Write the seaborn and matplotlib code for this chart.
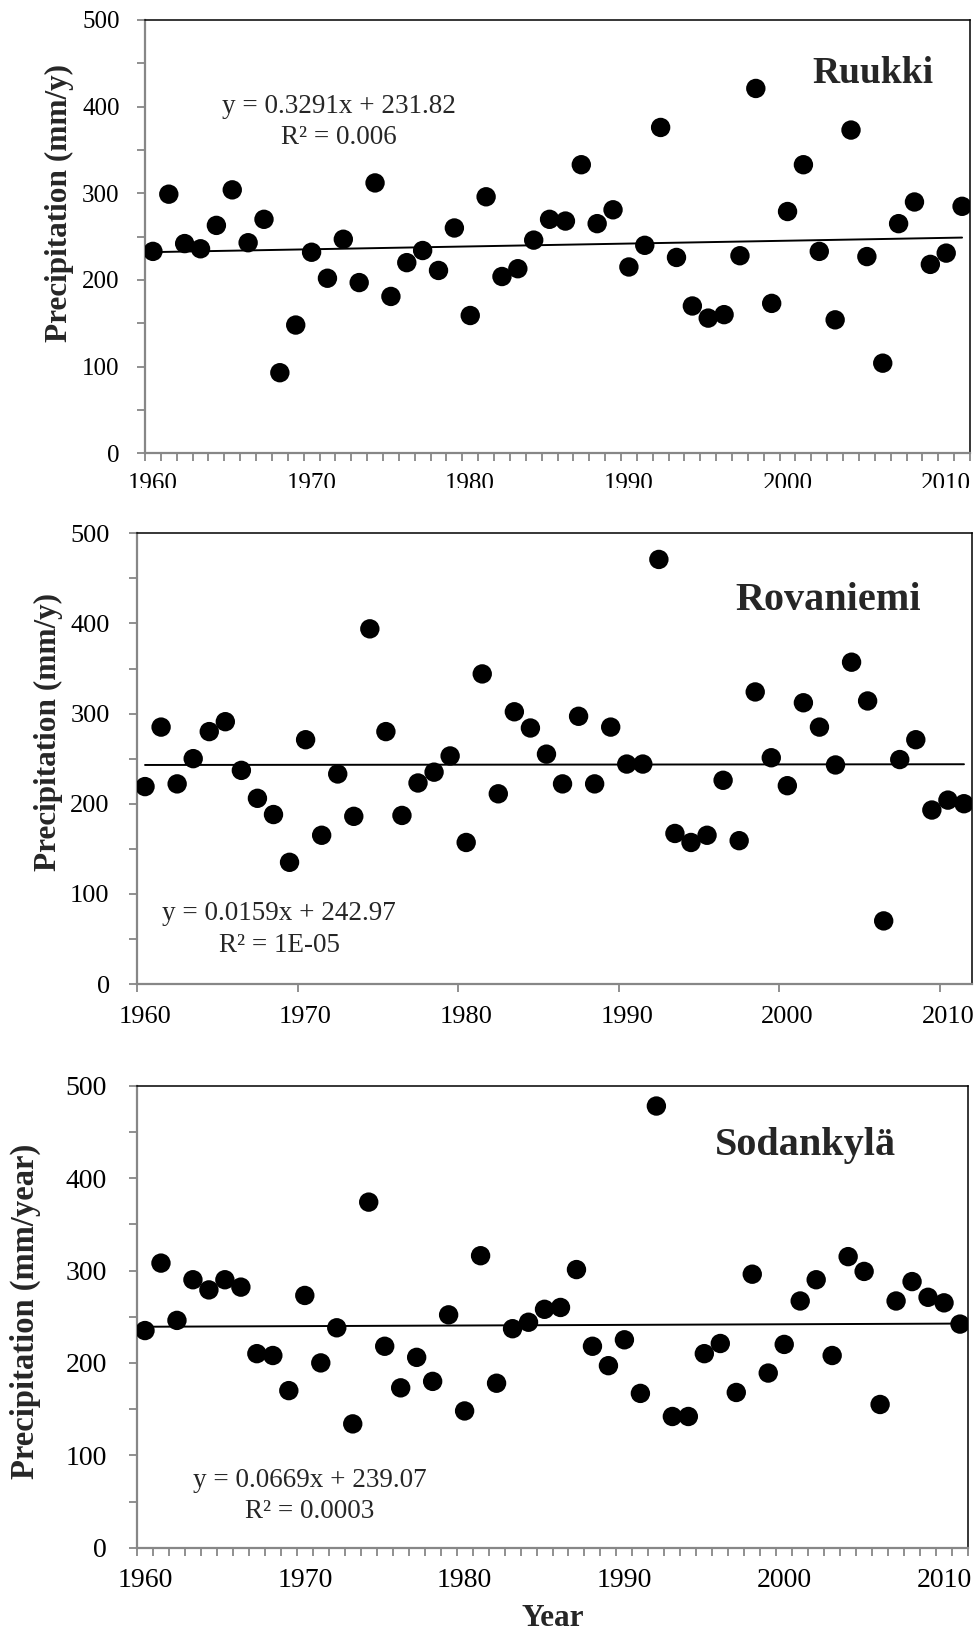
import numpy as np
import pandas as pd
import matplotlib
matplotlib.use("Agg")
import matplotlib.pyplot as plt
import seaborn as sns
from matplotlib.ticker import FixedLocator, MultipleLocator
from matplotlib.patches import Rectangle

# ---------------- data ----------------
years = list(range(1960, 2012))

ruukki = [233, 299, 242, 236, 263, 304, 243, 270, 93, 148,
          232, 202, 247, 197, 312, 181, 220, 234, 211, 260,
          159, 296, 204, 213, 246, 270, 268, 333, 265, 281,
          215, 240, 376, 226, 170, 156, 160, 228, 421, 173,
          279, 333, 233, 154, 373, 227, 104, 265, 290, 218,
          231, 285]

rovaniemi = [219, 285, 222, 250, 280, 291, 237, 206, 188, 135,
             271, 165, 233, 186, 394, 280, 187, 223, 235, 253,
             157, 344, 211, 302, 284, 255, 222, 297, 222, 285,
             244, 244, 471, 167, 157, 165, 226, 159, 324, 251,
             220, 312, 285, 243, 357, 314, 70, 249, 271, 193,
             204, 200]

sodankyla = [235, 308, 246, 290, 279, 290, 282, 210, 208, 170,
             273, 200, 238, 134, 374, 218, 173, 206, 180, 252,
             148, 316, 178, 237, 244, 258, 260, 301, 218, 197,
             225, 167, 478, 142, 142, 210, 221, 168, 296, 189,
             220, 267, 290, 208, 315, 299, 155, 267, 288, 271,
             265, 242]

stations = ["Ruukki", "Rovaniemi", "Sodankylä"]
ylabels = ["Precipitation (mm/y)", "Precipitation (mm/y)", "Precipitation (mm/year)"]
slopes = [0.3291, 0.0159, 0.0669]
intercepts = [231.82, 242.97, 239.07]
eq_texts = ["y = 0.3291x + 231.82", "y = 0.0159x + 242.97", "y = 0.0669x + 239.07"]
r2_texts = ["R² = 0.006", "R² = 1E-05", "R² = 0.0003"]
decade_labels = ["1960", "1970", "1980", "1990", "2000", "2010"]

# ---------------- style ----------------
sns.set_theme(style="white")
plt.rcParams["font.family"] = ["Liberation Serif", "DejaVu Serif"]

W, H = 980, 1635
fig = plt.figure(figsize=(W / 100, H / 100), dpi=100)
GRAY = "#878787"


def fx(px):
    return px / W


def fy(py):
    return 1 - py / H


panels = [
    dict(box=(145, 20, 970, 453.3), yearticks=True, tick_fs=18, xpad=14.5, ypad=12.2,
         ylab_x=59, ylab_y=203, ylab_fs=22.5, name_x=873, name_y=83, name_fs=27,
         eq_x=339, eq_y1=113, eq_y2=144, line_end=2011),
    dict(box=(137, 533.3, 972, 984), yearticks=False, tick_fs=19, xpad=16.0, ypad=13.7,
         ylab_x=48, ylab_y=732, ylab_fs=22.5, name_x=828, name_y=610, name_fs=29,
         eq_x=279, eq_y1=920, eq_y2=951.5, line_end=2011),
    dict(box=(137, 1085.7, 968, 1547.7), yearticks=True, tick_fs=20, xpad=14.6, ypad=15.5,
         ylab_x=25, ylab_y=1311, ylab_fs=23.5, name_x=805, name_y=1155, name_fs=29,
         eq_x=310, eq_y1=1487, eq_y2=1518, line_end=2011.5),
]
series = [ruukki, rovaniemi, sodankyla]

for i, (p, vals) in enumerate(zip(panels, series)):
    l, t, r, b = p["box"]
    ax = fig.add_axes([fx(l), fy(b), fx(r) - fx(l), fy(t) - fy(b)])
    df = pd.DataFrame({"Year": years, "Precip": vals})
    sns.scatterplot(data=df, x="Year", y="Precip", ax=ax, s=195, color="black",
                    edgecolor="none", linewidth=0, zorder=3, legend=False)

    tx = np.array([years[0], p["line_end"]], dtype=float)
    ty = slopes[i] * (tx - years[0] + 1) + intercepts[i]
    sns.lineplot(x=tx, y=ty, ax=ax, color="black", linewidth=1.4, zorder=2)

    ax.set_xlim(1959.5, 2011.5)
    ax.set_ylim(0, 500)
    ax.yaxis.set_major_locator(MultipleLocator(100))
    ax.yaxis.set_minor_locator(MultipleLocator(50))
    ax.xaxis.set_major_locator(FixedLocator([int(s) for s in decade_labels]))
    ax.set_xticklabels(decade_labels)
    step = 1 if p["yearticks"] else 10
    ax.xaxis.set_minor_locator(FixedLocator(np.arange(1959.5, 2012, step)))

    ax.tick_params(axis="x", which="major", length=0, pad=p["xpad"],
                   labelsize=p["tick_fs"], labelcolor="black")
    ax.tick_params(axis="x", which="minor", length=5.5, width=1.3, color=GRAY,
                   direction="out", bottom=True)
    ax.tick_params(axis="y", which="both", length=6, width=1.3, color=GRAY,
                   direction="out", left=True, pad=p["ypad"],
                   labelsize=p["tick_fs"], labelcolor="black")

    for s in ("left", "bottom"):
        ax.spines[s].set_color(GRAY)
        ax.spines[s].set_linewidth(1.6)
    for s in ("top", "right"):
        ax.spines[s].set_color("black")
        ax.spines[s].set_linewidth(1.1)
    ax.grid(False)

    ax.set_ylabel(ylabels[i], fontsize=p["ylab_fs"], fontweight="bold")
    ax.yaxis.label.set_va("center")
    ax.yaxis.set_label_coords((p["ylab_x"] - l) / (r - l), (b - p["ylab_y"]) / (b - t))
    if i == 2:
        ax.set_xlabel("Year", fontsize=22.5, fontweight="bold")
        ax.xaxis.label.set_va("baseline")
        ax.xaxis.set_label_coords((553 - l) / (r - l), (b - 1626) / (b - t))
    else:
        ax.set_xlabel("")

    fig.text(fx(p["name_x"]), fy(p["name_y"]), stations[i], fontsize=p["name_fs"],
             fontweight="bold", ha="center", va="baseline")
    fig.text(fx(p["eq_x"]), fy(p["eq_y1"]), eq_texts[i], fontsize=19.5,
             ha="center", va="baseline")
    fig.text(fx(p["eq_x"]), fy(p["eq_y2"]), r2_texts[i], fontsize=19.5,
             ha="center", va="baseline")

# the top panel's year labels are cut off in the source image
fig.add_artist(Rectangle((0, fy(520)), 1, fy(488) - fy(520), transform=fig.transFigure,
                         facecolor="white", edgecolor="none", zorder=20))

fig.savefig("out.png", dpi=100, facecolor="white")
